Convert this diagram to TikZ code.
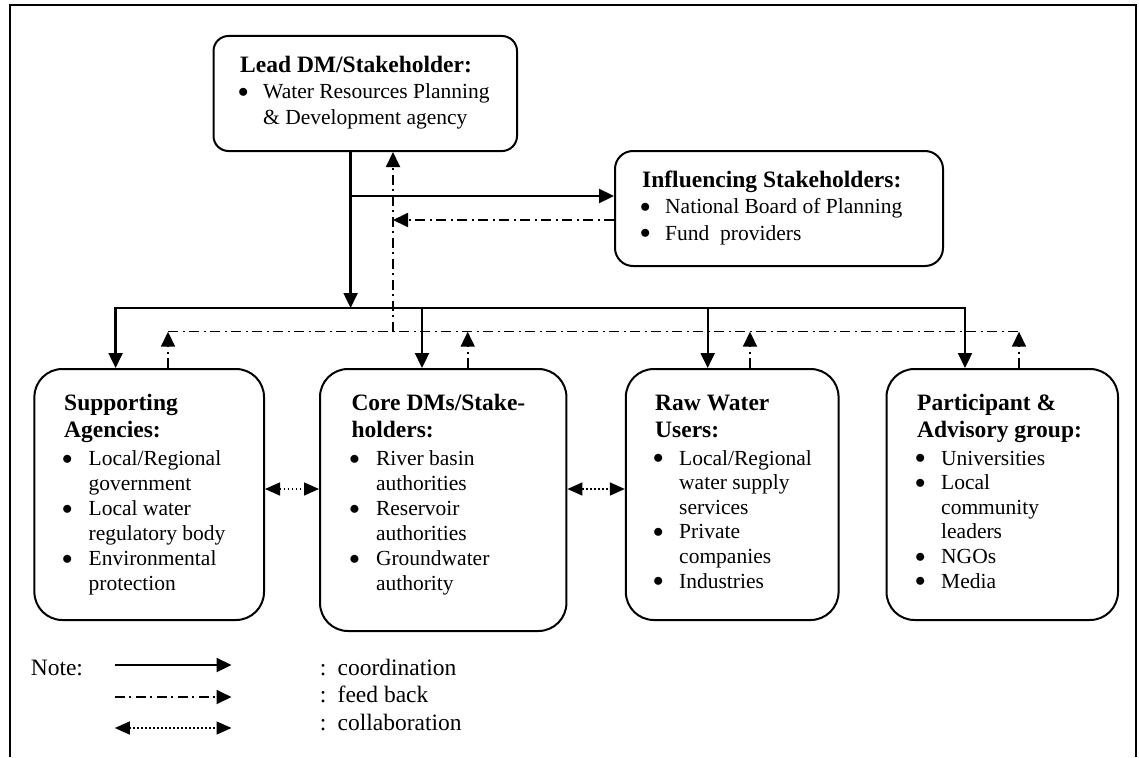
\documentclass[tikz,border=0pt]{standalone}
\usepackage{fontspec}
\setmainfont{Liberation Serif}
\usetikzlibrary{arrows.meta}

% bullet list item with hanging indent
\newlength\bulind
\setlength\bulind{24pt}
\newcommand\itm[1]{\par\noindent\hangindent=\bulind\hangafter=1\relax
  \hbox to\bulind{\hskip-2.2pt\raisebox{1.2pt}{$\bullet$}\hfil}#1\par}
\newcommand\headfont{\fontsize{23.5}{27}\selectfont\bfseries}
\newcommand\bodyfont[1]{\fontsize{21.5}{#1}\selectfont\mdseries}
\newcommand\legfont{\fontsize{23.5}{27}\selectfont}

\begin{document}
\begin{tikzpicture}[x=1pt,y=-1pt,
  box/.style={draw, line width=2pt, inner sep=0pt, fill=white},
  txt/.style={inner sep=0pt, anchor=base west},
  tip/.style={-{Triangle[length=15pt,width=14pt]}},
  coord/.style={line width=2.3pt, tip},
  feed/.style={line width=1.8pt, dash pattern=on 10pt off 4.5pt on 2pt off 4.5pt, tip},
  fbline/.style={line width=1.5pt, dash pattern=on 10pt off 4.5pt on 2pt off 4.5pt},
  collab/.style={line width=1.5pt, dash pattern=on 1.5pt off 2.5pt,
    {Triangle[length=15pt,width=13pt]}-{Triangle[length=15pt,width=13pt]}}
]
\fill[white] (0,0) rectangle (1139,757);
\useasboundingbox (0,0) rectangle (1139,757);

% outer frame (open at the bottom)
\draw[line width=2pt] (9.6,757) -- (9.6,5) -- (1136,5) -- (1136,757);

% boxes
\node[box, rounded corners=15pt, minimum width=303.5pt, minimum height=115pt] (lead) at (365.25,93.5) {};
\node[box, rounded corners=18pt, minimum width=328pt, minimum height=115pt] (infl) at (779,208.5) {};
\node[box, rounded corners=28pt, minimum width=229.6pt, minimum height=251pt] (sup) at (149.2,494.5) {};
\node[box, rounded corners=28pt, minimum width=246.4pt, minimum height=262pt] (core) at (443.2,500) {};
\node[box, rounded corners=28pt, minimum width=212.7pt, minimum height=251pt] (raw) at (732.2,494.5) {};
\node[box, rounded corners=28pt, minimum width=231.5pt, minimum height=251pt] (part) at (1002.25,494.5) {};

% box texts
\node[txt] (leadT) at (240,73) {\parbox[t]{270pt}{\headfont Lead DM/Stakeholder:\par
  \bodyfont{26}\setlength\bulind{23pt}%
  \itm{Water Resources Planning\\\& Development agency}}};
\node[txt] (inflT) at (642,187) {\parbox[t]{290pt}{\headfont Influencing Stakeholders:\par
  \bodyfont{26.5}\setlength\bulind{23pt}%
  \itm{National Board of Planning}
  \itm{Fund\ \ providers}}};
\node[txt] (supT) at (64,410) {\parbox[t]{200pt}{\headfont Supporting\\Agencies:\par
  \bodyfont{25}\vspace{3.5pt}\setlength\bulind{24.5pt}%
  \itm{Local/Regional\\government}
  \itm{Local water\\regulatory body}
  \itm{Environmental\\protection}}};
\node[txt] (coreT) at (351.3,410) {\parbox[t]{210pt}{\headfont Core DMs/Stake-\\holders:\par
  \bodyfont{25}\vspace{3.5pt}\setlength\bulind{24.5pt}%
  \itm{River basin\\authorities}
  \itm{Reservoir\\authorities}
  \itm{Groundwater\\authority}}};
\node[txt] (rawT) at (655,410) {\parbox[t]{180pt}{\headfont Raw Water\\Users:\par
  \bodyfont{24.6}\vspace{3.4pt}\setlength\bulind{24pt}%
  \itm{Local/Regional\\water supply\\services}
  \itm{Private\\companies}
  \itm{Industries}}};
\node[txt] (partT) at (917,410) {\parbox[t]{195pt}{\headfont Participant \&\\Advisory group:\par
  \bodyfont{24.6}\vspace{3.4pt}\setlength\bulind{24pt}%
  \itm{Universities}
  \itm{Local\\community\\leaders}
  \itm{NGOs}
  \itm{Media}}};

% junction points
\coordinate (br) at (350.6,196);
\coordinate (stem) at (350.6,308);
\coordinate (busL) at (115.6,308);
\coordinate (busR) at (965,308);
\coordinate (dCore) at (422,308);
\coordinate (dRaw) at (707.7,308);
\coordinate (fbL) at (168,331.7);
\coordinate (fbR) at (1019,331.7);
\coordinate (fbLead) at (393,331.7);
\coordinate (fbCore) at (467.7,331.7);
\coordinate (fbRaw) at (750,331.7);
\coordinate (yInfl) at (0,220);
\coordinate (yCol) at (0,489);

% coordination
\draw[coord] (stem |- lead.south) -- (stem);
\draw[coord] (br) -- (br -| infl.west);
\draw[coord] (stem) -- (busL) -- (busL |- sup.north);
\draw[coord] (stem) -- (busR) -- (busR |- part.north);
\draw[coord] (dCore) -- (dCore |- core.north);
\draw[coord] (dRaw) -- (dRaw |- raw.north);

% feed back
\draw[fbline] (fbL) -- (fbR);
\draw[feed] (fbL |- sup.north) -- (fbL);
\draw[feed] (fbCore |- core.north) -- (fbCore);
\draw[feed] (fbRaw |- raw.north) -- (fbRaw);
\draw[feed] (fbR |- part.north) -- (fbR);
\draw[feed] (fbLead) -- (fbLead |- lead.south);
\draw[feed] (infl.west |- yInfl) -- (fbLead |- yInfl);

% collaboration
\draw[collab] (sup.east |- yCol) -- (core.west |- yCol);
\draw[collab] (core.east |- yCol) -- (raw.west |- yCol);

% legend
\coordinate (l1a) at (114.8,665);
\coordinate (l1b) at (231.5,665);
\coordinate (l2a) at (114.8,697);
\coordinate (l2b) at (231.5,697);
\coordinate (l3a) at (114.8,728);
\coordinate (l3b) at (231.5,728);
\node[txt] (note) at (30.6,675) {\legfont Note:};
\draw[coord] (l1a) -- (l1b);
\draw[feed] (l2a) -- (l2b);
\draw[collab] (l3a) -- (l3b);
\node[txt] (k1) at (319.6,675) {\legfont\makebox[17.9pt][l]{:}coordination};
\node[txt] (k2) at (319.6,702.5) {\legfont\makebox[17.9pt][l]{:}feed back};
\node[txt] (k3) at (319.6,730) {\legfont\makebox[17.9pt][l]{:}collaboration};
\end{tikzpicture}
\end{document}
